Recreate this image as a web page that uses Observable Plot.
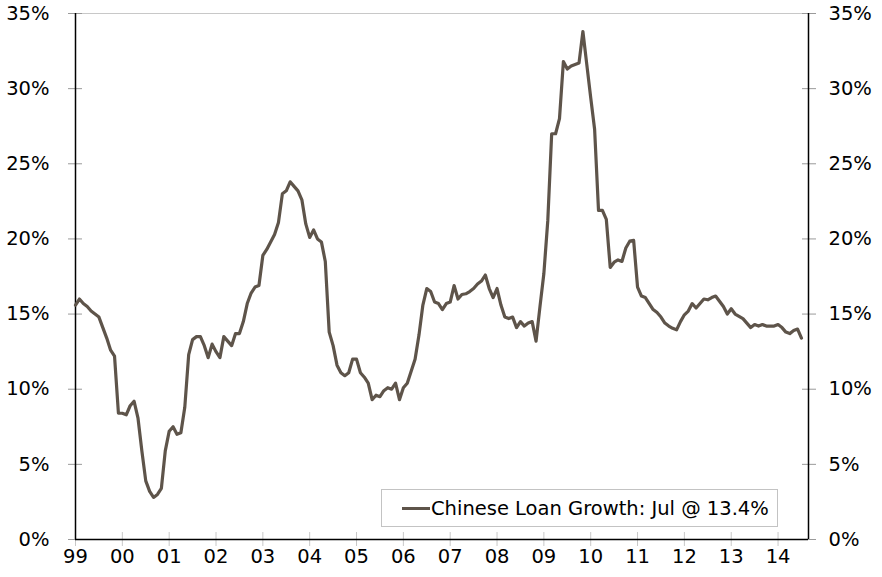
<!DOCTYPE html>
<html>
<head>
<meta charset="utf-8">
<script src="https://cdn.jsdelivr.net/npm/d3@7"></script>
<script src="https://cdn.jsdelivr.net/npm/@observablehq/plot@0.6"></script>
<style>
  html, body { margin: 0; padding: 0; background: #fff; }
  #wrap { position: relative; width: 882px; height: 577px; font-family: Verdana, "DejaVu Sans", sans-serif; }
  #legend {
    position: absolute; left: 381px; top: 489px; width: 397px; height: 38px;
    box-sizing: border-box; border: 1px solid #c3c3c3; background: #fff;
    display: flex; align-items: center; padding-left: 20px;
    font-size: 19.5px; color: #000; white-space: nowrap;
  }
  #legend .sw { display: inline-block; width: 28px; height: 3px; background: #5e544a; margin-right: 1px; }
</style>
</head>
<body>
<div id="wrap"><div id="legend"><span class="sw"></span><span>Chinese Loan Growth: Jul @ 13.4%</span></div></div>
<script>
// Monthly Chinese loan growth (%), Jan 1999 .. Jul 2014
const startYear = 1999;
const growth = [
  15.6, 16.0, 15.7, 15.5, 15.2, 15.0, 14.8, 14.1, 13.4, 12.6, 12.2, 8.4,   // 1999
  8.4, 8.3, 8.9, 9.2, 8.1, 5.9, 3.9, 3.2, 2.8, 3.0, 3.4, 5.9,             // 2000
  7.2, 7.5, 7.0, 7.1, 8.8, 12.3, 13.3, 13.5, 13.5, 12.9, 12.1, 13.0,      // 2001
  12.5, 12.1, 13.5, 13.2, 12.9, 13.7, 13.7, 14.5, 15.7, 16.4, 16.8, 16.9, // 2002
  18.9, 19.3, 19.8, 20.3, 21.1, 23.0, 23.2, 23.8, 23.5, 23.2, 22.6, 21.0, // 2003
  20.1, 20.6, 20.0, 19.8, 18.5, 13.8, 12.9, 11.6, 11.1, 10.9, 11.1, 12.0, // 2004
  12.0, 11.1, 10.8, 10.4, 9.3, 9.6, 9.5, 9.9, 10.1, 10.0, 10.4, 9.3,      // 2005
  10.1, 10.4, 11.2, 12.0, 13.6, 15.6, 16.7, 16.5, 15.8, 15.7, 15.3, 15.7, // 2006
  15.8, 16.9, 16.0, 16.3, 16.35, 16.5, 16.7, 17.0, 17.2, 17.6, 16.7, 16.1,// 2007
  16.7, 15.6, 14.8, 14.7, 14.8, 14.1, 14.5, 14.2, 14.4, 14.5, 13.2, 15.5, // 2008
  17.7, 21.2, 27.0, 27.0, 28.0, 31.8, 31.3, 31.5, 31.6, 31.7, 33.8, 31.6, // 2009
  29.4, 27.3, 21.9, 21.9, 21.3, 18.1, 18.45, 18.6, 18.5, 19.4, 19.85, 19.9,// 2010
  16.8, 16.2, 16.1, 15.7, 15.3, 15.1, 14.8, 14.4, 14.2, 14.05, 13.95, 14.5,// 2011
  14.95, 15.2, 15.7, 15.4, 15.7, 16.0, 15.95, 16.1, 16.2, 15.85, 15.5, 15.0,// 2012
  15.35, 15.0, 14.85, 14.7, 14.4, 14.1, 14.3, 14.2, 14.3, 14.2, 14.2, 14.2, // 2013
  14.3, 14.1, 13.8, 13.7, 13.9, 14.0, 13.4                                   // 2014
];
const yearTicks = [1999, 2000, 2001, 2002, 2003, 2004, 2005, 2006, 2007, 2008, 2009, 2010, 2011, 2012, 2013, 2014];
const pctTicks = [0, 5, 10, 15, 20, 25, 30, 35];
const xDomain = [1999, 2014.65];
const yDomain = [0, 35];

const data = growth.map((v, i) => ({t: startYear + i / 12, v}));

const fmtYear = d => String(d % 100).padStart(2, "0");
const fmtPct = d => d + "%";

const chart = Plot.plot({
  width: 882,
  height: 577,
  marginLeft: 75,
  marginRight: 74,
  marginTop: 13,
  marginBottom: 38,
  style: {fontFamily: "Verdana, 'DejaVu Sans', sans-serif", fontSize: "19.5px", color: "#000", background: "#fff"},
  x: {domain: xDomain},
  y: {domain: yDomain},
  marks: [
    Plot.ruleY([yDomain[1]], {stroke: "#c8c8c8", strokeWidth: 1}),
    // tick marks crossing the axes
    Plot.axisY({anchor: "left", ticks: pctTicks, tickSize: 14, dx: 7, tickFormat: () => "", stroke: "#9a9a9a", label: null}),
    Plot.axisY({anchor: "right", ticks: pctTicks, tickSize: 14, dx: -7, tickFormat: () => "", stroke: "#9a9a9a", label: null}),
    Plot.axisX({anchor: "bottom", ticks: yearTicks, tickSize: 14, dy: -7, tickFormat: () => "", stroke: "#c8c8c8", label: null}),
    // tick labels
    Plot.axisY({anchor: "left", ticks: pctTicks, tickSize: 0, tickPadding: 26, tickFormat: fmtPct, label: null}),
    Plot.axisY({anchor: "right", ticks: pctTicks, tickSize: 0, tickPadding: 20, tickFormat: fmtPct, label: null}),
    Plot.axisX({anchor: "bottom", ticks: yearTicks, tickSize: 0, tickPadding: 10, tickFormat: fmtYear, label: null}),
    // axis lines
    Plot.ruleX([xDomain[0], xDomain[1]], {stroke: "#000", strokeWidth: 1.5}),
    Plot.ruleY([yDomain[0]], {stroke: "#000", strokeWidth: 1.5}),
    Plot.line(data, {x: "t", y: "v", stroke: "#5e544a", strokeWidth: 3.2, strokeLinejoin: "round", strokeLinecap: "round"})
  ]
});
document.getElementById("wrap").prepend(chart);
</script>
</body>
</html>
